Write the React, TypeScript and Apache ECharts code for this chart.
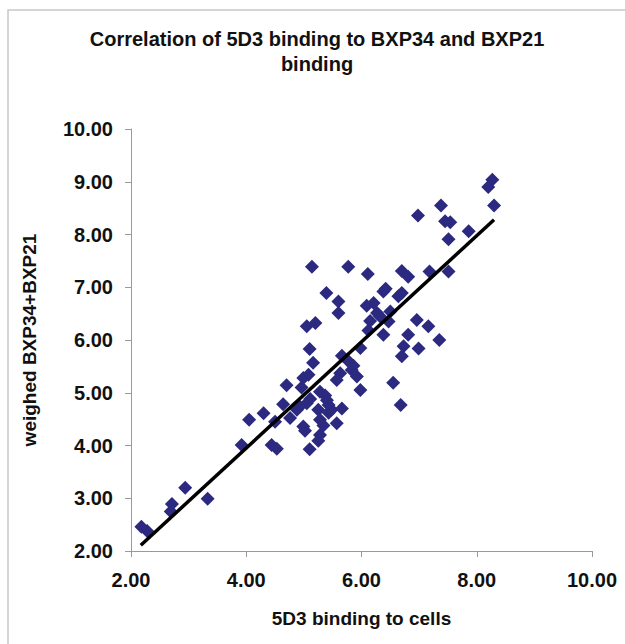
import React, { useEffect, useRef } from "react";
import * as echarts from "echarts";

const titleText = "Correlation of 5D3 binding to BXP34 and BXP21\nbinding";
const xAxisName = "5D3 binding to cells";
const yAxisName = "weighed BXP34+BXP21";

const xValues: number[] = [
  2.18, 2.28, 2.71, 2.69, 2.94, 3.33, 3.92, 4.05, 4.30, 4.44,
  4.53, 4.50, 4.64, 4.70, 4.76, 4.93, 4.96, 4.99, 5.08, 4.99,
  5.02, 5.05, 5.11, 5.10, 5.25, 5.28, 5.28, 5.34, 5.28, 5.37,
  5.43, 5.48, 5.40, 5.57, 5.66, 5.57, 5.63, 5.83, 5.92, 5.98,
  5.66, 5.77, 5.86, 5.10, 5.16, 5.05, 5.20, 5.14, 5.77, 5.39,
  5.60, 5.60, 5.98, 6.09, 6.21, 6.11, 6.15, 6.12, 6.27, 6.32,
  6.38, 6.47, 6.50, 6.38, 6.64, 6.70, 6.70, 6.81, 7.18, 7.51,
  6.96, 7.16, 6.81, 7.35, 6.73, 6.99, 6.70, 6.55, 6.68, 6.98,
  7.38, 7.45, 7.54, 7.86, 7.51, 8.27, 8.20, 8.30, 6.42, 5.43,
  5.25, 4.88,
];
const yValues: number[] = [
  2.46, 2.38, 2.89, 2.75, 3.20, 2.99, 4.01, 4.49, 4.61, 4.01,
  3.94, 4.45, 4.78, 5.14, 4.52, 4.74, 5.10, 5.28, 5.34, 4.36,
  4.28, 4.80, 4.88, 3.93, 4.09, 4.20, 4.49, 4.38, 5.02, 4.95,
  4.77, 4.68, 4.86, 4.42, 4.70, 5.24, 5.37, 5.43, 5.31, 5.05,
  5.70, 5.60, 5.51, 5.83, 5.57, 6.26, 6.32, 7.39, 7.39, 6.89,
  6.73, 6.51, 5.85, 6.65, 6.70, 7.25, 6.36, 6.18, 6.51, 6.45,
  6.92, 6.35, 6.54, 6.10, 6.83, 6.89, 7.31, 7.20, 7.30, 7.30,
  6.38, 6.26, 6.10, 6.00, 5.88, 5.84, 5.69, 5.19, 4.77, 8.36,
  8.55, 8.25, 8.23, 8.06, 7.91, 9.04, 8.90, 8.55, 6.97, 4.62,
  4.68, 4.68,
];

const trendX: number[] = [2.17, 8.3];
const trendY: number[] = [2.11, 8.28];

const xTicks: number[] = [2, 4, 6, 8, 10];
const yTicks: number[] = [2, 3, 4, 5, 6, 7, 8, 9, 10];

const FONT = "'Liberation Sans', Arial, sans-serif";

export default function App() {
  const ref = useRef<HTMLDivElement>(null);

  useEffect(() => {
    if (!ref.current) return;
    const chart = echarts.init(ref.current, undefined, { renderer: "svg" });
    const points = xValues.map((x, i) => [x, yValues[i]]);
    const trend = trendX.map((x, i) => [x, trendY[i]]);
    chart.setOption({
      animation: false,
      backgroundColor: "#ffffff",
      textStyle: { fontFamily: FONT },
      graphic: [
        {
          type: "rect",
          shape: { x: 8, y: 10, width: 640, height: 660 },
          style: { fill: "none", stroke: "#c8c8c8", lineWidth: 1.5 },
          z: -1,
        },
      ],
      title: {
        text: titleText,
        left: 312,
        top: 21,
        textAlign: "center",
        textStyle: {
          fontFamily: FONT,
          fontSize: 20,
          fontWeight: "bold",
          color: "#111",
          lineHeight: 25,
        },
      },
      grid: { left: 131, right: 33, top: 129, bottom: 93, containLabel: false },
      xAxis: {
        type: "value",
        min: xTicks[0],
        max: xTicks[xTicks.length - 1],
        interval: 2,
        name: xAxisName,
        nameLocation: "middle",
        nameGap: 58,
        nameTextStyle: { fontFamily: FONT, fontSize: 19, fontWeight: "bold", color: "#111" },
        axisLine: { show: true, lineStyle: { color: "#9a9a9a", width: 1 } },
        axisTick: { show: true, length: 6, lineStyle: { color: "#9a9a9a" } },
        splitLine: { show: false },
        axisLabel: {
          formatter: (v: number) => v.toFixed(2),
          fontFamily: FONT,
          fontSize: 20,
          fontWeight: "bold",
          color: "#111",
          margin: 19,
        },
      },
      yAxis: {
        type: "value",
        min: yTicks[0],
        max: yTicks[yTicks.length - 1],
        interval: 1,
        name: yAxisName,
        nameLocation: "middle",
        nameGap: 92,
        nameRotate: 90,
        nameTextStyle: { fontFamily: FONT, fontSize: 19, fontWeight: "bold", color: "#111" },
        axisLine: { show: true, lineStyle: { color: "#9a9a9a", width: 1 } },
        axisTick: { show: true, length: 6, lineStyle: { color: "#9a9a9a" } },
        splitLine: { show: false },
        axisLabel: {
          formatter: (v: number) => v.toFixed(2),
          fontFamily: FONT,
          fontSize: 20,
          fontWeight: "bold",
          color: "#111",
          margin: 18,
        },
      },
      series: [
        {
          type: "scatter",
          data: points,
          symbol: "diamond",
          symbolSize: 14,
          itemStyle: { color: "#2c2a80", opacity: 1 },
          z: 2,
        },
        {
          type: "line",
          data: trend,
          showSymbol: false,
          symbol: "none",
          lineStyle: { color: "#000000", width: 3.5 },
          z: 3,
        },
      ],
    });
    return () => chart.dispose();
  }, []);

  return (
    <div
      ref={ref}
      style={{ position: "fixed", left: 0, top: 0, width: 625, height: 644 }}
    />
  );
}
